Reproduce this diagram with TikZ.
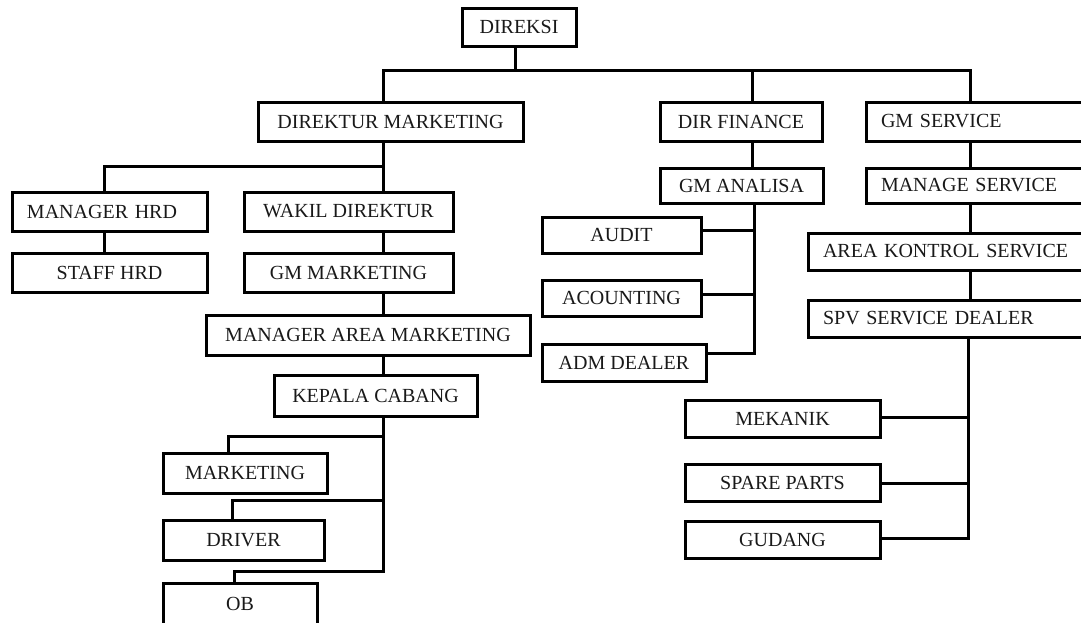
\documentclass[tikz,border=0pt]{standalone}
\usepackage{fontspec}
\setmainfont{Liberation Serif}
\begin{document}
\begin{tikzpicture}[x=1pt,y=-1pt,
  box/.style={draw=black, line width=3pt, rectangle, inner sep=0pt,
    font=\fontsize{20}{24}\selectfont, text=black!90},
  lbox/.style={box, inner xsep=15pt, text width=#1, align=left},
  conn/.style={draw=black, line width=3pt, line cap=rect}]
\useasboundingbox (0,0) rectangle (1081,622);
\clip (0,0) rectangle (1081,622);
\fill[white] (0,0) rectangle (1081,622);

% boxes
\node[box, minimum width=114pt, minimum height=38pt] (direksi) at (519,27) {DIREKSI};
\node[box, minimum width=265pt, minimum height=39pt] (dirmkt) at (390.5,121.5) {DIREKTUR MARKETING};
\node[box, minimum width=162pt, minimum height=39pt] (dirfin) at (741,121.5) {DIR FINANCE};
\node[lbox=204pt, minimum width=234pt, minimum height=39pt] (gmserv) at (983,121.5) {GM SERVICE};
\node[box, minimum width=163pt, minimum height=35pt] (gmanal) at (741.5,185.5) {GM ANALISA};
\node[lbox=204pt, minimum width=234pt, minimum height=35pt] (mansrv) at (983,185.5) {MANAGE SERVICE};
\node[lbox=262pt, minimum width=292pt, minimum height=37pt] (akserv) at (954,251.5) {AREA KONTROL SERVICE};
\node[lbox=262pt, minimum width=292pt, minimum height=37pt] (spv) at (954,318.5) {SPV SERVICE DEALER};
\node[box, minimum width=159pt, minimum height=36pt] (audit) at (621.5,235) {AUDIT};
\node[box, minimum width=159pt, minimum height=36pt] (acount) at (621.5,298) {ACOUNTING};
\node[box, minimum width=164pt, minimum height=37pt] (adm) at (624,362.5) {ADM DEALER};
\node[box, minimum width=195pt, minimum height=37pt] (mekanik) at (782.5,418.5) {MEKANIK};
\node[box, minimum width=195pt, minimum height=37pt] (spare) at (782.5,482.5) {SPARE PARTS};
\node[box, minimum width=195pt, minimum height=37pt] (gudang) at (782.5,539.5) {GUDANG};
\node[lbox=165pt, minimum width=195pt, minimum height=39pt] (mhrd) at (109.5,211.5) {MANAGER HRD};
\node[box, minimum width=195pt, minimum height=39pt] (shrd) at (109.5,272.5) {STAFF HRD};
\node[box, minimum width=209pt, minimum height=39pt] (wakil) at (348.5,211.5) {WAKIL DIREKTUR};
\node[box, minimum width=209pt, minimum height=39pt] (gmmkt) at (348.5,272.5) {GM MARKETING};
\node[box, minimum width=324pt, minimum height=40pt] (mam) at (368,335) {MANAGER AREA MARKETING};
\node[box, minimum width=203pt, minimum height=41pt] (kepala) at (375.5,395.5) {KEPALA CABANG};
\node[box, minimum width=164pt, minimum height=40pt] (marketing) at (245,473) {MARKETING};
\node[box, minimum width=161pt, minimum height=40pt] (driver) at (243.5,540) {DRIVER};
\node[box, minimum width=154pt, minimum height=42pt] (ob) at (240,604) {OB};

% junction coordinates
\coordinate (b0) at (515,70);
\coordinate (jL) at (383,70);
\coordinate (jF) at (752,70);
\coordinate (jS) at (970,70);
\coordinate (kM) at (383,166);
\coordinate (kH) at (104,166);
\coordinate (kB) at (383,571);
\coordinate (m1) at (228,436);
\coordinate (m2) at (232,500);
\coordinate (m3) at (234,571);
\coordinate (fB) at (754,353);
\coordinate (f1) at (754,230);
\coordinate (f2) at (754,294);
\coordinate (sB) at (968,538);
\coordinate (s1) at (968,417);
\coordinate (s2) at (968,483);

% connectors: top
\draw[conn] (direksi.south -| b0) -- (b0);
\draw[conn] (dirmkt.north -| jL) -- (jL) -- (jS) -- (gmserv.north -| jS);
\draw[conn] (jF) -- (dirfin.north -| jF);

% marketing branch
\draw[conn] (dirmkt.south -| kM) -- (wakil.north -| kM);
\draw[conn] (kM) -- (kH) -- (mhrd.north -| kH);
\draw[conn] (mhrd.south -| kH) -- (shrd.north -| kH);
\draw[conn] (wakil.south -| kM) -- (gmmkt.north -| kM);
\draw[conn] (gmmkt.south -| kM) -- (mam.north -| kM);
\draw[conn] (mam.south -| kM) -- (kepala.north -| kM);
\draw[conn] (kepala.south -| kM) -- (kB);
\draw[conn] (m1 -| kM) -- (m1) -- (marketing.north -| m1);
\draw[conn] (m2 -| kM) -- (m2) -- (driver.north -| m2);
\draw[conn] (kB) -- (m3) -- (ob.north -| m3);

% finance branch
\draw[conn] (dirfin.south -| jF) -- (gmanal.north -| jF);
\draw[conn] (gmanal.south -| fB) -- (fB) -- (adm.east |- fB);
\draw[conn] (audit.east |- f1) -- (f1);
\draw[conn] (acount.east |- f2) -- (f2);

% service branch
\draw[conn] (gmserv.south -| jS) -- (mansrv.north -| jS);
\draw[conn] (mansrv.south -| jS) -- (akserv.north -| jS);
\draw[conn] (akserv.south -| jS) -- (spv.north -| jS);
\draw[conn] (spv.south -| sB) -- (sB) -- (gudang.east |- sB);
\draw[conn] (mekanik.east |- s1) -- (s1);
\draw[conn] (spare.east |- s2) -- (s2);
\end{tikzpicture}
\end{document}
